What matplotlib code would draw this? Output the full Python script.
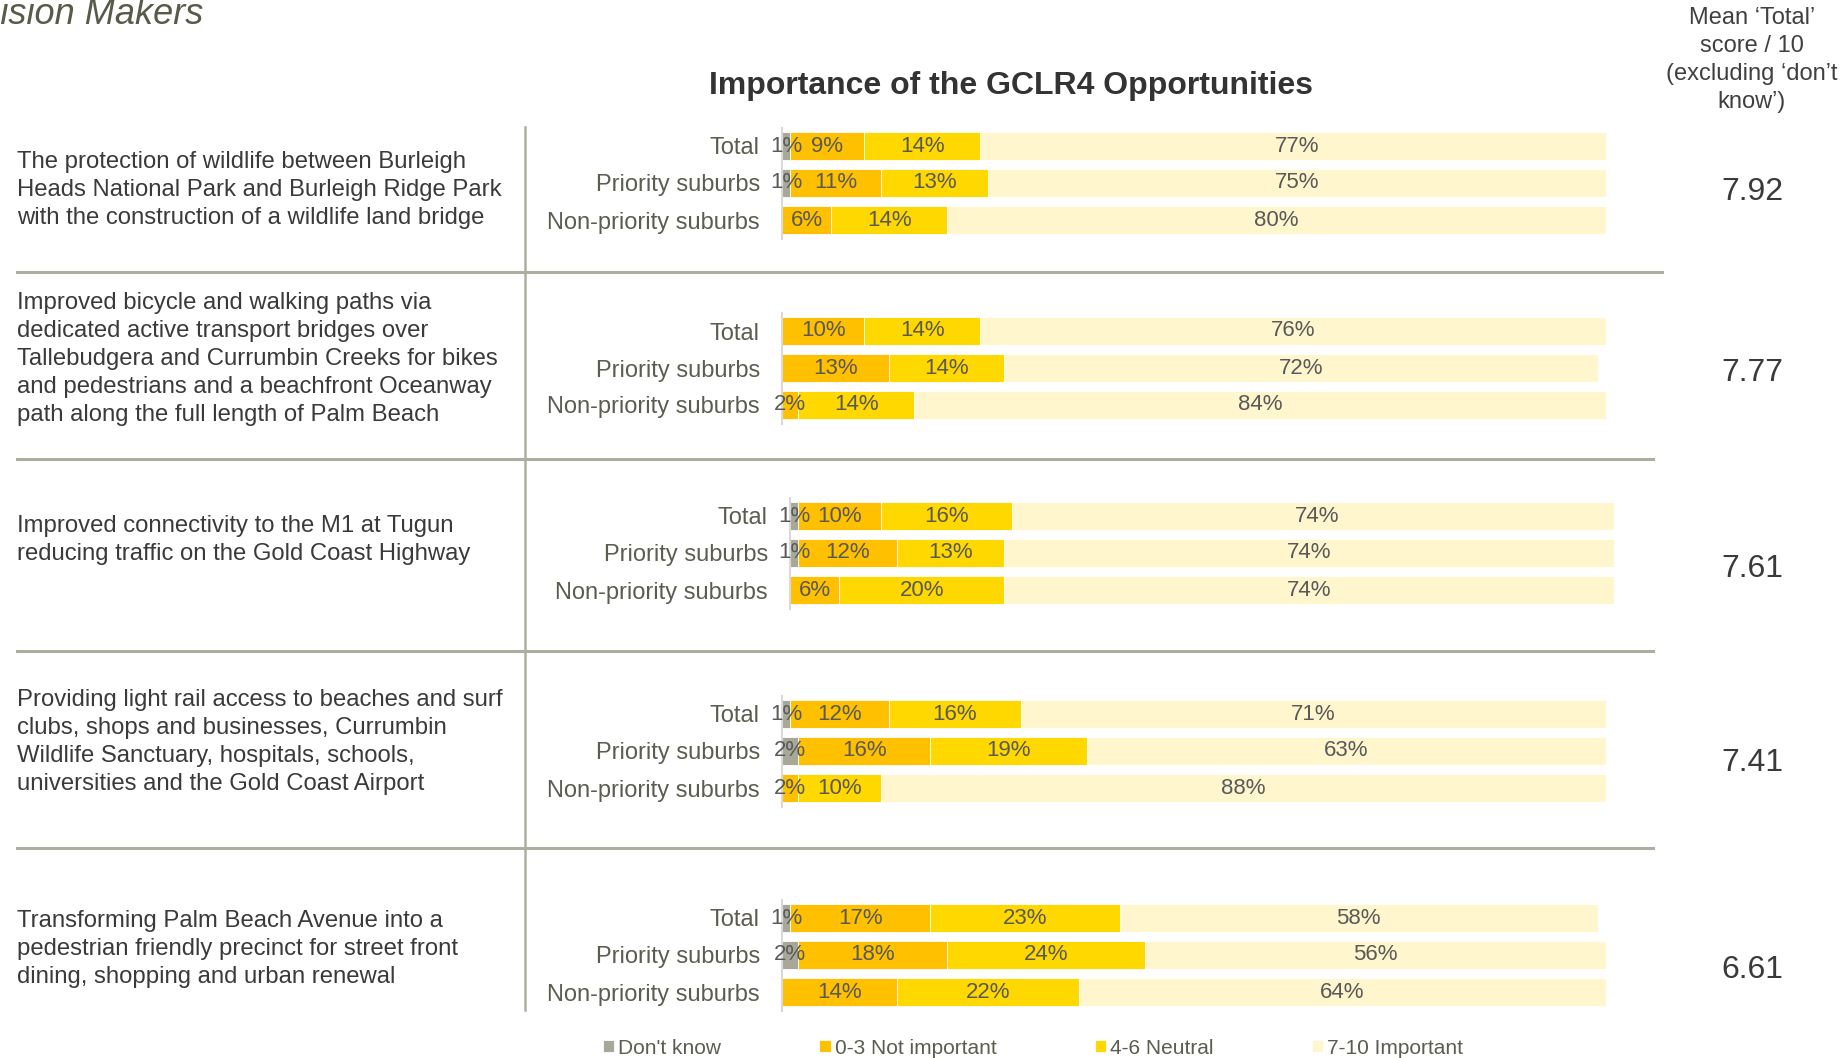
import matplotlib
matplotlib.use("Agg")
import matplotlib.pyplot as plt
from matplotlib.lines import Line2D

plt.rcParams['font.family'] = ['Liberation Sans', 'DejaVu Sans']

# ---- data -------------------------------------------------------------
statements = [
    "The protection of wildlife between Burleigh\nHeads National Park and Burleigh Ridge Park\nwith the construction of a wildlife land bridge",
    "Improved bicycle and walking paths via\ndedicated active transport bridges over\nTallebudgera and Currumbin Creeks for bikes\nand pedestrians and a beachfront Oceanway\npath along the full length of Palm Beach",
    "Improved connectivity to the M1 at Tugun\nreducing traffic on the Gold Coast Highway",
    "Providing light rail access to beaches and surf\nclubs, shops and businesses, Currumbin\nWildlife Sanctuary, hospitals, schools,\nuniversities and the Gold Coast Airport",
    "Transforming Palm Beach Avenue into a\npedestrian friendly precinct for street front\ndining, shopping and urban renewal",
]
segments = ["Total", "Priority suburbs", "Non-priority suburbs"]
categories = ["Don't know", "0-3 Not important", "4-6 Neutral", "7-10 Important"]

# percentages per statement: rows = Total, Priority, Non-priority
dont_know = [[1, 1, 0], [0, 0, 0], [1, 1, 0], [1, 2, 0], [1, 2, 0]]
not_important = [[9, 11, 6], [10, 13, 2], [10, 12, 6], [12, 16, 2], [17, 18, 14]]
neutral = [[14, 13, 14], [14, 14, 14], [16, 13, 20], [16, 19, 10], [23, 24, 22]]
important = [[77, 75, 80], [76, 72, 84], [74, 74, 74], [71, 63, 88], [58, 56, 64]]
mean_scores = [7.92, 7.77, 7.61, 7.41, 6.61]

colors = ["#A8A899", "#FFC000", "#FFD800", "#FFF6CE"]
label_color = "#5C5C50"
text_dark = "#3A3A3A"
rule_color = "#AEAEA0"

# ---- layout (pixels) --------------------------------------------------
W, H = 1849, 1058
fig = plt.figure(figsize=(W / 100, H / 100), dpi=100)

def fx(x):
    return x / W

def fy(y):
    return 1 - y / H

group_cy = [183, 368, 553, 751, 955]
group_x0 = [782, 782, 790, 782, 782]
text_cy = [190, 359, 540, 742, 949]
mean_cy = [192, 373, 569, 763, 970]
pitch = 37
bar_w = 824

handles = None
for g in range(5):
    ax = fig.add_axes([fx(group_x0[g]), fy(group_cy[g] + 1.5 * pitch),
                       bar_w / W, 3 * pitch / H])
    series = [dont_know[g], not_important[g], neutral[g], important[g]]
    left = [0, 0, 0]
    conts = []
    for s, vals in enumerate(series):
        c = ax.barh(range(3), vals, left=left, height=0.76, color=colors[s],
                    edgecolor="white", linewidth=0.6, label=categories[s])
        conts.append(c)
        for r, v in enumerate(vals):
            if v > 0:
                ax.text(left[r] + v / 2, r, f"{v}%", ha="center", va="center",
                        fontsize=16, color="#595959")
        left = [a + b for a, b in zip(left, vals)]
    if handles is None:
        handles = conts
    ax.set_xlim(0, 100)
    ax.set_ylim(2.5, -0.5)
    ax.set_yticks(range(3))
    ax.set_yticklabels(segments, fontsize=17, color=label_color)
    ax.tick_params(axis="y", length=0, pad=16)
    ax.set_xticks([])
    for sp in ["top", "right", "bottom"]:
        ax.spines[sp].set_visible(False)
    ax.spines["left"].set_color("#D9D9D9")
    ax.spines["left"].set_linewidth(1.5)
    ax.patch.set_alpha(0)

    fig.text(fx(17), fy(text_cy[g]), statements[g], ha="left", va="center",
             fontsize=17.2, color=text_dark, linespacing=1.36)
    fig.text(fx(1752), fy(mean_cy[g]), f"{mean_scores[g]:.2f}",
             ha="center", va="center", fontsize=23, color=text_dark)

# separators
for y, x1 in zip([272, 459, 651, 848], [1662, 1653, 1653, 1653]):
    fig.add_artist(Line2D([fx(17), fx(x1)], [fy(y), fy(y)], color=rule_color,
                          linewidth=2.2, transform=fig.transFigure))
fig.add_artist(Line2D([fx(525), fx(525)], [fy(127), fy(1010)], color=rule_color,
                      linewidth=1.8, transform=fig.transFigure))

# titles
fig.text(fx(1011), fy(86), "Importance of the GCLR4 Opportunities", ha="center",
         va="center", fontsize=23, fontweight="bold", color="#333333")
fig.text(fx(203), fy(24), "Decision Makers", ha="right", va="baseline",
         fontsize=26, style="italic", color="#5A5A4A")
fig.text(fx(1752), fy(60), "Mean \u2018Total\u2019\nscore / 10\n(excluding \u2018don\u2019t\nknow\u2019)",
         ha="center", va="center", fontsize=17, color="#404040", linespacing=1.36)

fig.legend(handles, categories, loc="center", bbox_to_anchor=(fx(1033), fy(1048)),
           ncol=4, frameon=False, fontsize=15, handlelength=0.55, handleheight=0.55,
           handletextpad=0.2, columnspacing=4.7, labelcolor=label_color)

fig.savefig("out.png", dpi=100, facecolor="white")
